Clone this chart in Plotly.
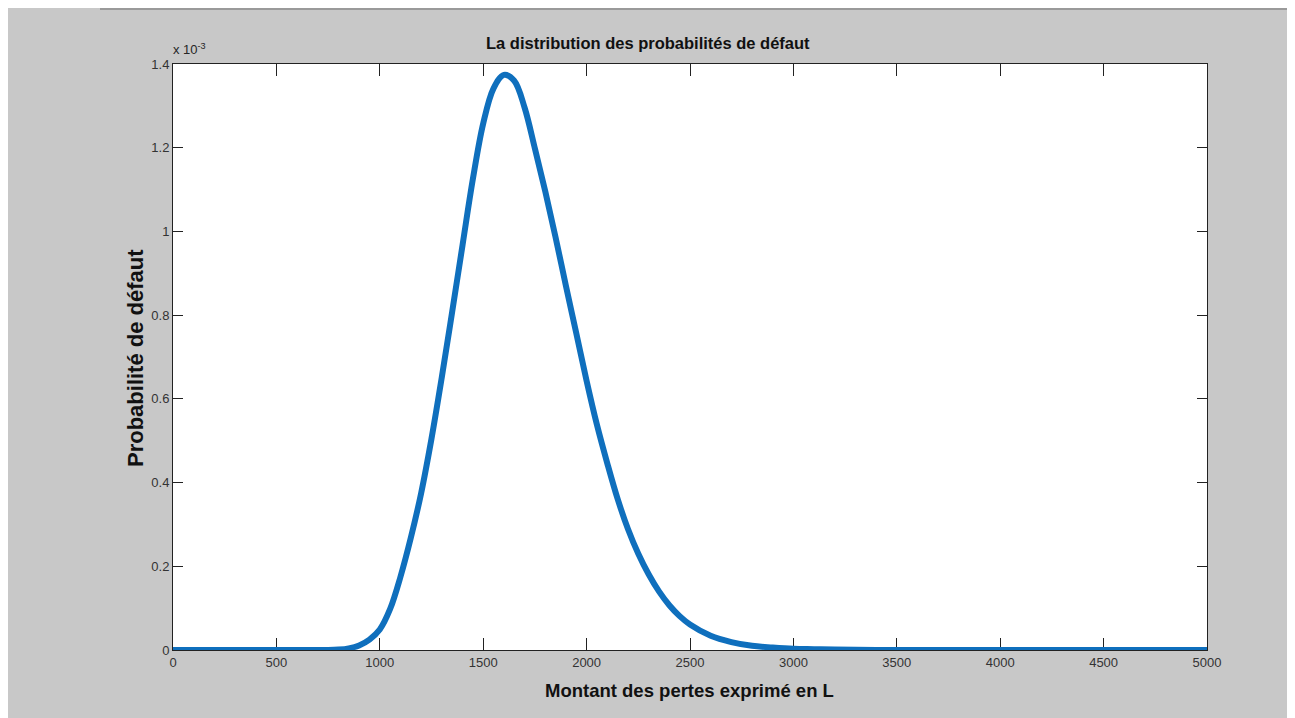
import plotly.graph_objects as go

# Data
loss_amount = [0, 400, 750, 800, 850, 900, 950, 1000, 1050, 1100, 1150, 1200, 1250,
               1300, 1350, 1400, 1450, 1500, 1550, 1600, 1650, 1700, 1750,
               1800, 1850, 1900, 1950, 2000, 2050, 2100, 2150, 2200, 2250, 2300,
               2350, 2400, 2450, 2500, 2600, 2700, 2800, 2900, 3000, 3100, 3200,
               3400, 4000, 4500, 5000]
default_prob_e3 = [0, 0, 0, 0.001, 0.004, 0.011, 0.025, 0.049, 0.098, 0.175, 0.268,
                   0.375, 0.505, 0.652, 0.808, 0.967, 1.125, 1.258, 1.342, 1.374,
                   1.360, 1.296, 1.198, 1.096, 0.986, 0.870, 0.757, 0.643,
                   0.538, 0.446, 0.361, 0.289, 0.230, 0.181, 0.140, 0.107, 0.081,
                   0.061, 0.034, 0.019, 0.010, 0.006, 0.003, 0.002, 0.001, 0, 0, 0, 0]
default_prob = [v * 1e-3 for v in default_prob_e3]

x_ticks = [0, 500, 1000, 1500, 2000, 2500, 3000, 3500, 4000, 4500, 5000]
y_tick_vals = [0, 0.2e-3, 0.4e-3, 0.6e-3, 0.8e-3, 1.0e-3, 1.2e-3, 1.4e-3]
y_tick_text = ["0", "0.2", "0.4", "0.6", "0.8", "1", "1.2", "1.4"]

title_text = "La distribution des probabilités de défaut"
x_title = "Montant des pertes exprimé en L"
y_title = "Probabilité de défaut"
exp_text = "x 10<sup>-3</sup>"

# page is rendered with an 8px body margin, so the figure is offset by 8px
OFF = 8
W, H = 1295 - OFF, 718 - OFF
L, T = 173 - OFF, 64 - OFF
R, B = W - (1207 - OFF), H - (650 - OFF)
pw, ph = W - L - R, H - T - B

def px2x(p):
    return (p - OFF - L) / pw

def px2y(p):
    return 1 - (p - OFF - T) / ph

font = "Liberation Sans, Arial, sans-serif"

fig = go.Figure()
fig.add_trace(go.Scatter(
    x=loss_amount, y=default_prob, mode="lines",
    line=dict(color="#0f6fbd", width=6, shape="spline", smoothing=1.0),
    cliponaxis=False, showlegend=False, hoverinfo="x+y"))

fig.update_layout(
    width=W, height=H,
    margin=dict(l=L, r=R, t=T, b=B, pad=0),
    paper_bgcolor="rgb(200,200,200)",
    plot_bgcolor="white",
    font=dict(family=font, size=12.5, color="#262626"),
    xaxis=dict(range=[0, 5000], tickvals=x_ticks, ticks="inside", ticklen=12,
               tickcolor="#222", showline=True, linecolor="#222", linewidth=1,
               mirror="ticks", showgrid=False, zeroline=False, layer="below traces",
               tickfont=dict(size=13, color="#333", family=font)),
    yaxis=dict(range=[0, 1.4e-3], tickvals=y_tick_vals, ticktext=y_tick_text,
               ticks="inside", ticklen=10, tickcolor="#222", showline=True,
               linecolor="#222", linewidth=1, mirror="ticks", showgrid=False,
               zeroline=False, layer="below traces",
               tickfont=dict(size=13, color="#333", family=font)),
    annotations=[
        dict(text="<b>" + title_text + "</b>", xref="paper", yref="paper",
             x=px2x(648), y=px2y(43), xanchor="center", yanchor="middle",
             showarrow=False, font=dict(size=16.5, color="#111", family=font)),
        dict(text="<b>" + x_title + "</b>", xref="paper", yref="paper",
             x=px2x(689), y=px2y(690), xanchor="center", yanchor="middle",
             showarrow=False, font=dict(size=18.5, color="#111", family=font)),
        dict(text="<b>" + y_title + "</b>", xref="paper", yref="paper",
             x=px2x(135), y=px2y(358), xanchor="center", yanchor="middle",
             textangle=-90, showarrow=False,
             font=dict(size=22, color="#111", family=font)),
        dict(text=exp_text, xref="paper", yref="paper",
             x=px2x(171), y=px2y(59), xanchor="left", yanchor="bottom",
             showarrow=False, font=dict(size=13, color="#262626", family=font)),
    ],
    shapes=[
        dict(type="line", xref="paper", yref="paper", x0=px2x(100), x1=px2x(1300),
             y0=px2y(9), y1=px2y(9), line=dict(color="#9a9a9a", width=2), layer="below"),
        dict(type="rect", xref="paper", yref="paper", x0=px2x(1291), x1=px2x(1300),
             y0=px2y(720), y1=px2y(10), fillcolor="white", line=dict(width=0), layer="below"),
    ],
)

fig.write_html("out.html")
